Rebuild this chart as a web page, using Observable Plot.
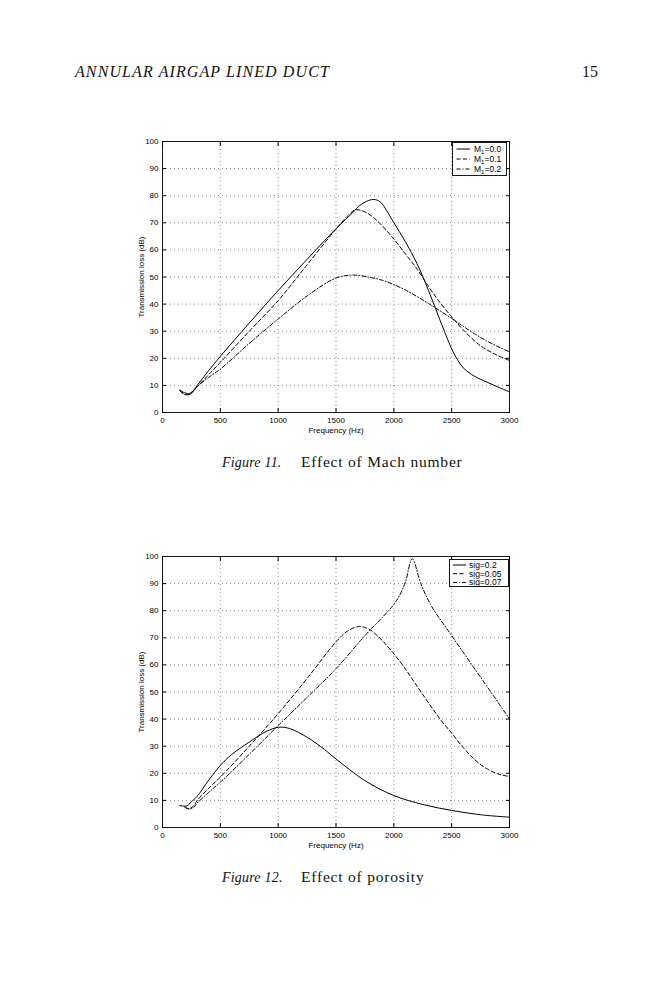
<!DOCTYPE html>
<html><head><meta charset="utf-8">
<script src="https://cdn.jsdelivr.net/npm/d3@7"></script>
<script src="https://cdn.jsdelivr.net/npm/@observablehq/plot@0.6"></script>
<style>
body{margin:0;background:#fff;}
#page{position:relative;width:659px;height:1000px;background:#fff;overflow:hidden;}
.chart{position:absolute;}
</style></head><body><div id="page"></div>
<script>
// ---------- data ----------
const xTicks = [0, 500, 1000, 1500, 2000, 2500, 3000];
const yTicks = [0, 10, 20, 30, 40, 50, 60, 70, 80, 90, 100];

// Figure 11: effect of Mach number
const freqM0 = [150, 180, 227, 260, 300, 400, 500, 750, 1000, 1250, 1500, 1650, 1700, 1780, 1827, 1880, 2000, 2100, 2200, 2300, 2400, 2500, 2550, 2600, 2650, 2700, 2800, 2900, 3000];
const tlM0   = [8.3, 7.5, 7.0, 7.8, 10, 15.5, 20.7, 33, 45, 56.5, 67.8, 74, 76.2, 78.2, 78.6, 77.8, 70, 63, 55, 45, 34, 23.5, 19.5, 16.5, 14.7, 13.3, 11.3, 9.4, 7.6];
const freqM1 = [150, 200, 240, 300, 400, 500, 750, 1000, 1250, 1500, 1600, 1669, 1750, 1850, 2000, 2100, 2200, 2300, 2400, 2500, 2600, 2750, 2900, 3000];
const tlM1   = [8.0, 6.6, 7.0, 9.5, 14, 18.5, 30, 41.3, 54.5, 67.7, 72.5, 74.8, 74, 71, 64, 58.5, 53, 46.5, 40.5, 35.3, 30.5, 24.6, 21, 19.2];
const freqM2 = [150, 200, 250, 300, 400, 500, 750, 1000, 1250, 1500, 1654, 1800, 1900, 2000, 2100, 2200, 2300, 2400, 2500, 2600, 2700, 2800, 2900, 3000];
const tlM2   = [8.0, 6.5, 7.0, 9.5, 13, 16, 25.5, 34.5, 43, 49.6, 50.7, 49.8, 48.8, 47.2, 45.2, 42.8, 40.2, 37.5, 34.7, 31.8, 29, 26.5, 24.3, 22.4];
const labelsMach = ["0.0", "0.1", "0.2"];

// Figure 12: effect of porosity
const freqS02  = [150, 180, 213, 250, 300, 400, 500, 600, 750, 900, 1006, 1100, 1250, 1400, 1500, 1750, 2000, 2250, 2500, 2750, 3000];
const tlS02    = [8.1, 7.9, 8.0, 9.5, 11.5, 17.5, 22.9, 27, 31.5, 35.5, 37, 36.5, 33.3, 28.8, 25.3, 17.3, 11.8, 8.5, 6.3, 4.7, 3.8];
const freqS005 = [190, 228, 270, 300, 400, 500, 750, 1000, 1250, 1500, 1600, 1697, 1750, 1800, 1900, 2000, 2100, 2200, 2300, 2400, 2500, 2600, 2700, 2800, 2900, 3000];
const tlS005   = [7.5, 6.9, 8, 10, 14.5, 18.6, 30, 42, 55, 68.5, 72.5, 74.2, 73.8, 72.8, 69, 64.1, 58.5, 52.2, 46, 40, 34.8, 29.5, 25, 21.8, 19.8, 18.8];
const freqS007 = [200, 230, 270, 300, 400, 500, 750, 1000, 1250, 1500, 1750, 1900, 2000, 2050, 2100, 2159, 2231, 2317, 2500, 2749, 3000];
const tlS007   = [7.5, 6.8, 7.5, 9, 13, 16.7, 27, 37.6, 48, 58.6, 70.8, 77.5, 82.3, 85.7, 90.5, 99.2, 90.3, 82.3, 70.8, 55.5, 40.1];
const labelsSig = ["sig=0.2", "sig=0.05", "sig=0.07"];

// ---------- styles ----------
const DASHES = [null, "4,2.5", "4,2,1,2"];
const SANS = "'Liberation Sans', Arial, Helvetica, sans-serif";
const SERIF = "'Liberation Serif', 'DejaVu Serif', serif";

const page = d3.select("#page");

// page text overlay
const txt = page.append("svg").attr("width", 659).attr("height", 1000)
  .style("position", "absolute").style("left", "0px").style("top", "0px");
function T(x, y, s, size, italic, ls) {
  txt.append("text").attr("x", x).attr("y", y).text(s)
    .attr("font-family", SERIF).attr("font-size", size)
    .attr("font-style", italic ? "italic" : "normal")
    .attr("letter-spacing", ls || 0).attr("fill", "#111");
}
T(75, 77, "ANNULAR AIRGAP LINED DUCT", 16, true, 1.1);
T(582, 77, "15", 16, false);
T(222, 467, "Figure 11.", 14, true, 0.2);
T(301, 467, "Effect of Mach number", 15.5, false, 0.8);
T(222, 882, "Figure 12.", 14, true, 0.2);
T(301, 882, "Effect of porosity", 15.5, false, 0.8);

const fmt = d => String(d);

function chart(series, left, top) {
  const marks = [
    Plot.gridX(xTicks, {stroke: "#666", strokeOpacity: 1, strokeWidth: 0.7, strokeDasharray: "1,3"}),
    Plot.gridY(yTicks, {stroke: "#666", strokeOpacity: 1, strokeWidth: 0.7, strokeDasharray: "1,3"}),
    Plot.axisX(xTicks, {anchor: "bottom", tickSize: -4, tickPadding: 9, tickFormat: fmt, label: "Frequency (Hz)", labelAnchor: "center", labelArrow: "none", labelOffset: 20}),
    Plot.axisX(xTicks, {anchor: "top", tickSize: -4, tickFormat: () => "", label: null}),
    Plot.axisY(yTicks, {anchor: "left", tickSize: -4, tickPadding: 8, tickFormat: fmt, label: "Transmission loss (dB)", labelAnchor: "center", labelArrow: "none", labelOffset: 24}),
    Plot.axisY(yTicks, {anchor: "right", tickSize: -4, tickFormat: () => "", label: null}),
    ...series.map((s, k) => Plot.line(s.freq.map((f, i) => ({f, tl: s.tl[i]})), {
      x: "f", y: "tl", stroke: "#000", strokeWidth: 1, strokeDasharray: DASHES[k], curve: "catmull-rom"
    })),
    Plot.frame({stroke: "#000", strokeWidth: 0.9})
  ];
  const svg = Plot.plot({
    width: 420, height: 320,
    marginLeft: 50, marginRight: 23, marginTop: 16, marginBottom: 33,
    x: {domain: [0, 3000]},
    y: {domain: [0, 100]},
    style: {fontSize: "8px", fontFamily: SANS, background: "transparent", color: "#000"},
    marks
  });
  const div = page.append("div").attr("class", "chart").style("left", left + "px").style("top", top + "px");
  div.node().appendChild(svg);
}

function legend(x, y, w, h, rows, textX, lineX0, lineX1) {
  const g = page.append("svg").attr("width", w).attr("height", h)
    .style("position", "absolute").style("left", x + "px").style("top", y + "px");
  g.append("rect").attr("x", 0.5).attr("y", 0.5).attr("width", w - 1).attr("height", h - 1)
    .attr("fill", "#fff").attr("stroke", "#000").attr("stroke-width", 0.9);
  rows.forEach((r, k) => {
    g.append("line").attr("x1", lineX0).attr("x2", lineX1).attr("y1", r.cy).attr("y2", r.cy)
      .attr("stroke", "#000").attr("stroke-width", 1).attr("stroke-dasharray", DASHES[k]);
    const t = g.append("text").attr("x", textX).attr("y", r.cy + 3)
      .attr("font-family", SANS).attr("font-size", 8.5).attr("fill", "#000");
    if (r.sub) {
      t.append("tspan").text("M");
      t.append("tspan").attr("font-size", 6).attr("dy", 2).text("1");
      t.append("tspan").attr("dy", -2).text("=" + r.label);
    } else t.text(r.label);
  });
}

chart([{freq: freqM0, tl: tlM0}, {freq: freqM1, tl: tlM1}, {freq: freqM2, tl: tlM2}], 112, 125);
legend(452, 142, 55, 34, labelsMach.map((l, k) => ({label: l, sub: true, cy: 7 + k * 10})), 22, 4.5, 18);

chart([{freq: freqS02, tl: tlS02}, {freq: freqS005, tl: tlS005}, {freq: freqS007, tl: tlS007}], 112, 540);
legend(449, 559, 60, 28, labelsSig.map((l, k) => ({label: l, cy: 6 + k * 8.7})), 20, 4, 17);
</script></body></html>
